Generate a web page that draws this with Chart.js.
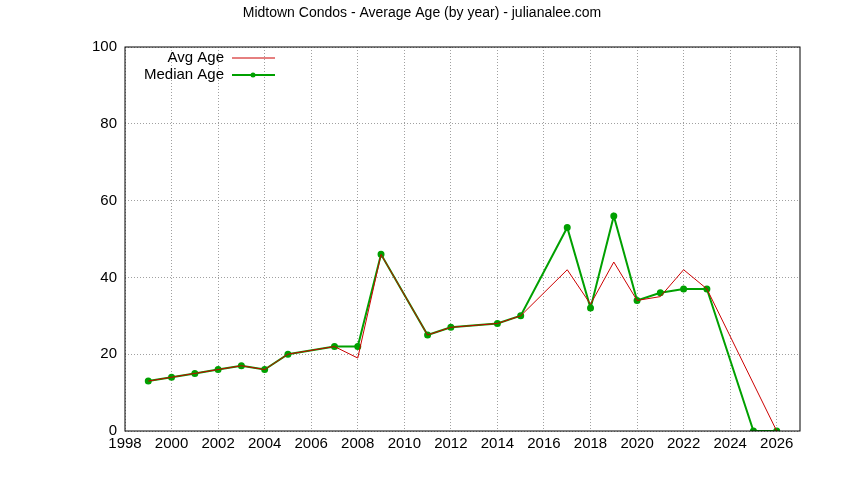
<!DOCTYPE html>
<html>
<head>
<meta charset="utf-8">
<script src="https://cdn.jsdelivr.net/npm/chart.js@4"></script>
<style>
  html, body { margin: 0; padding: 0; background: #fff; }
  #wrap { width: 844px; height: 480px; }
</style>
</head>
<body>
<div id="wrap"><canvas id="ageChart" width="844" height="480"></canvas></div>
<script>
// Data
const titleText = "Midtown Condos - Average Age (by year) - julianalee.com";
const avgYears   = [1999, 2000, 2001, 2002, 2003, 2004, 2005, 2007, 2008, 2009, 2011, 2012, 2014, 2015, 2017, 2018, 2019, 2020, 2021, 2022, 2023, 2026];
const avgAge     = [13, 14, 15, 16, 17, 16, 20, 22, 19, 46, 25, 27, 28, 30, 42, 33, 44, 34, 35, 42, 37, 0];
const medianYears = [1999, 2000, 2001, 2002, 2003, 2004, 2005, 2007, 2008, 2009, 2011, 2012, 2014, 2015, 2017, 2018, 2019, 2020, 2021, 2022, 2023, 2025, 2026];
const medianAge   = [13, 14, 15, 16, 17, 16, 20, 22, 22, 46, 25, 27, 28, 30, 53, 32, 56, 34, 36, 37, 37, 0, 0];
const xTicks = [1998, 2000, 2002, 2004, 2006, 2008, 2010, 2012, 2014, 2016, 2018, 2020, 2022, 2024, 2026];

const FONT = "'Liberation Sans', Arial, sans-serif";

// title + legend drawn inside the plot like gnuplot does
const gnuplotBits = {
  id: "gnuplotBits",
  afterDraw(chart) {
    const c = chart.ctx;
    c.save();
    c.fillStyle = "#000";
    c.font = "14px " + FONT;
    c.textAlign = "center";
    c.textBaseline = "middle";
    c.fillText(titleText, 422, 13);

    const a = chart.chartArea;
    c.font = "15px " + FONT;
    c.textAlign = "right";
    const rows = [["Avg Age", "#cc0000", 1, false], ["Median Age", "#00a000", 2, true]];
    rows.forEach((r, i) => {
      const y = a.top + 11 + i * 17;
      c.fillStyle = "#000";
      c.fillText(r[0], a.left + 99, y);
      c.strokeStyle = r[1];
      c.lineWidth = r[2];
      c.beginPath();
      c.moveTo(a.left + 107, y);
      c.lineTo(a.left + 150, y);
      c.stroke();
      if (r[3]) {
        c.fillStyle = r[1];
        c.beginPath();
        c.arc(a.left + 128, y, 2.5, 0, Math.PI * 2);
        c.fill();
      }
    });
    c.strokeStyle = "#000";
    c.lineWidth = 1;
    c.strokeRect(a.left, a.top, a.right - a.left, a.bottom - a.top);
    c.restore();
  }
};

new Chart(document.getElementById("ageChart"), {
  type: "line",
  data: {
    datasets: [
      {
        label: "Avg Age",
        data: avgYears.map((x, i) => ({ x, y: avgAge[i] })),
        borderColor: "#cc0000",
        borderWidth: 1,
        pointRadius: 0,
        tension: 0
      },
      {
        label: "Median Age",
        data: medianYears.map((x, i) => ({ x, y: medianAge[i] })),
        borderColor: "#00a000",
        backgroundColor: "#00a000",
        borderWidth: 2,
        pointRadius: 2.5,
        pointStyle: "circle",
        tension: 0
      }
    ]
  },
  options: {
    responsive: false,
    animation: false,
    layout: { padding: { top: 47, right: 44, left: 0, bottom: 0 } },
    plugins: { legend: { display: false }, title: { display: false }, tooltip: { enabled: false } },
    scales: {
      x: {
        type: "linear",
        min: 1998,
        max: 2027,
        afterBuildTicks: s => { s.ticks = xTicks.map(v => ({ value: v })); },
        afterFit: s => { s.height = 49; },
        ticks: { color: "#000", font: { family: FONT, size: 15 }, maxRotation: 0, padding: 4, callback: v => String(v) },
        grid: { color: "#a0a0a0", tickLength: 0 },
        border: { display: false, dash: [1, 2] }
      },
      y: {
        min: 0,
        max: 100,
        ticks: { stepSize: 20, color: "#000", font: { family: FONT, size: 15 }, padding: 8 },
        afterFit: s => { s.width = 125; },
        grid: { color: "#a0a0a0", tickLength: 0 },
        border: { display: false, dash: [1, 2] }
      }
    }
  },
  plugins: [gnuplotBits]
});
</script>
</body>
</html>
